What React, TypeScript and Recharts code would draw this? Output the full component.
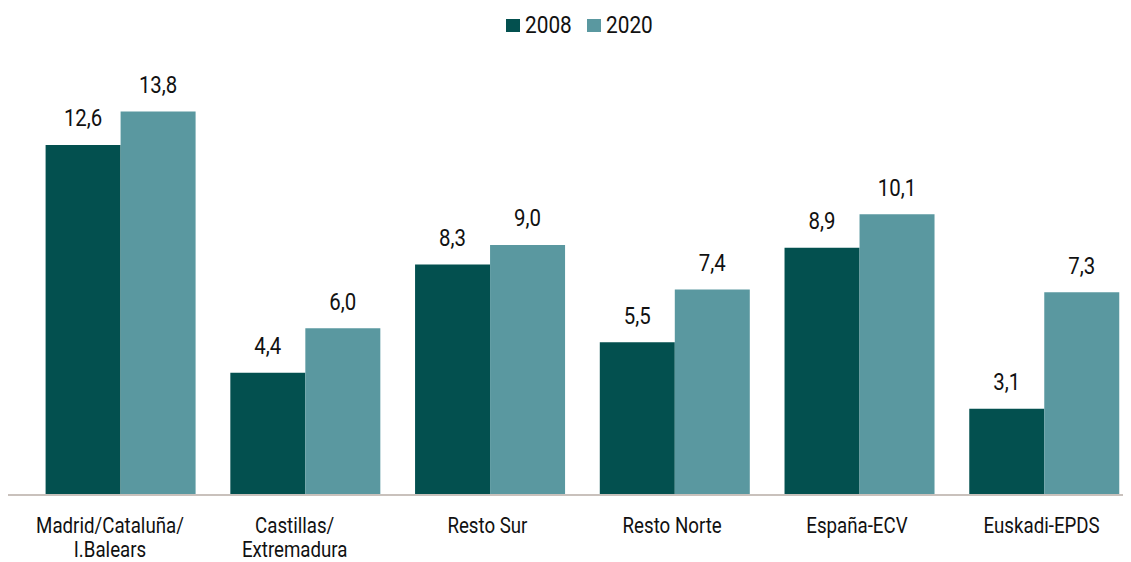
import React from "react";
import { BarChart, Bar, XAxis, YAxis, Legend, LabelList } from "recharts";

const categories = ["Madrid/Cataluña/\nI.Balears", "Castillas/\nExtremadura", "Resto Sur", "Resto Norte", "España-ECV", "Euskadi-EPDS"];
const values2008 = [12.6, 4.4, 8.3, 5.5, 8.9, 3.1];
const values2020 = [13.8, 6.0, 9.0, 7.4, 10.1, 7.3];
const seriesNames = ["2008", "2020"];

const data = categories.map((c, i) => ({ cat: c, v2008: values2008[i], v2020: values2020[i] }));

const FONT = "Roboto, 'Noto Sans', sans-serif";
const SX = 0.85;
const DARK = "#03504f";
const LIGHT = "#5a98a0";
const TEXT = "#111";

const fmt = (v: any) => Number(v).toFixed(1).replace(".", ",");

const Tick = (props: any) => {
  const { x, y, payload } = props;
  const lines = String(payload.value).split("\n");
  const dx = lines.length > 1 ? -11 : -3;
  return (
    <g transform={`translate(${x + dx},${y}) scale(${SX},1)`}>
      <text x={0} y={0} textAnchor="middle" fill={TEXT} fontFamily={FONT} fontSize={22}>
        {lines.map((l, i) => (
          <tspan key={i} x={0} dy={i === 0 ? 38.5 : 24}>{l}</tspan>
        ))}
      </text>
    </g>
  );
};

const ValueLabel = (props: any) => {
  const { x, y, width, value } = props;
  const cx = Number(x) + Number(width) / 2;
  const by = Number(y) - 18.5;
  return (
    <g transform={`translate(${cx},${by}) scale(${SX},1)`}>
      <text x={0} y={0} textAnchor="middle" fill={TEXT} fontFamily={FONT} fontSize={24}>
        {fmt(value)}
      </text>
    </g>
  );
};

const LegendContent = () => (
  <div style={{ display: "flex", justifyContent: "center", alignItems: "center", fontFamily: FONT, fontSize: 24.5, color: TEXT, height: 30, marginLeft: 13 }}>
    {seriesNames.map((n, i) => (
      <div key={n} style={{ display: "flex", alignItems: "center", marginLeft: i === 0 ? 0 : 17 }}>
        <div style={{ width: 14, height: 13, background: i === 0 ? DARK : LIGHT, marginRight: 5, marginTop: 3 }} />
        <div style={{ width: 45, whiteSpace: "nowrap" }}>
          <span style={{ display: "inline-block", transform: `scaleX(${SX})`, transformOrigin: "left center" }}>{n}</span>
        </div>
      </div>
    ))}
  </div>
);

export default function App() {
  return (
    <div style={{ margin: "-8px 0 0 -8px", width: 1140, height: 562 }}>
      <BarChart
        width={1140}
        height={562}
        data={data}
        margin={{ top: 76, right: 3, bottom: 7, left: 7 }}
        barCategoryGap="9.2%"
        barGap={0}
      >
        <Legend verticalAlign="top" height={30} wrapperStyle={{ top: 9 }} content={<LegendContent />} />
        <XAxis
          dataKey="cat"
          height={60}
          interval={0}
          tickLine={false}
          tickSize={0}
          tickMargin={0}
          padding={{ left: 21.6, right: 0 }}
          axisLine={{ stroke: "#c9c1bc", strokeWidth: 2 }}
          tick={<Tick />}
        />
        <YAxis hide domain={[0, 14]} />
        <Bar dataKey="v2008" name="2008" fill={DARK} isAnimationActive={false}>
          <LabelList dataKey="v2008" content={<ValueLabel />} />
        </Bar>
        <Bar dataKey="v2020" name="2020" fill={LIGHT} isAnimationActive={false}>
          <LabelList dataKey="v2020" content={<ValueLabel />} />
        </Bar>
      </BarChart>
    </div>
  );
}
